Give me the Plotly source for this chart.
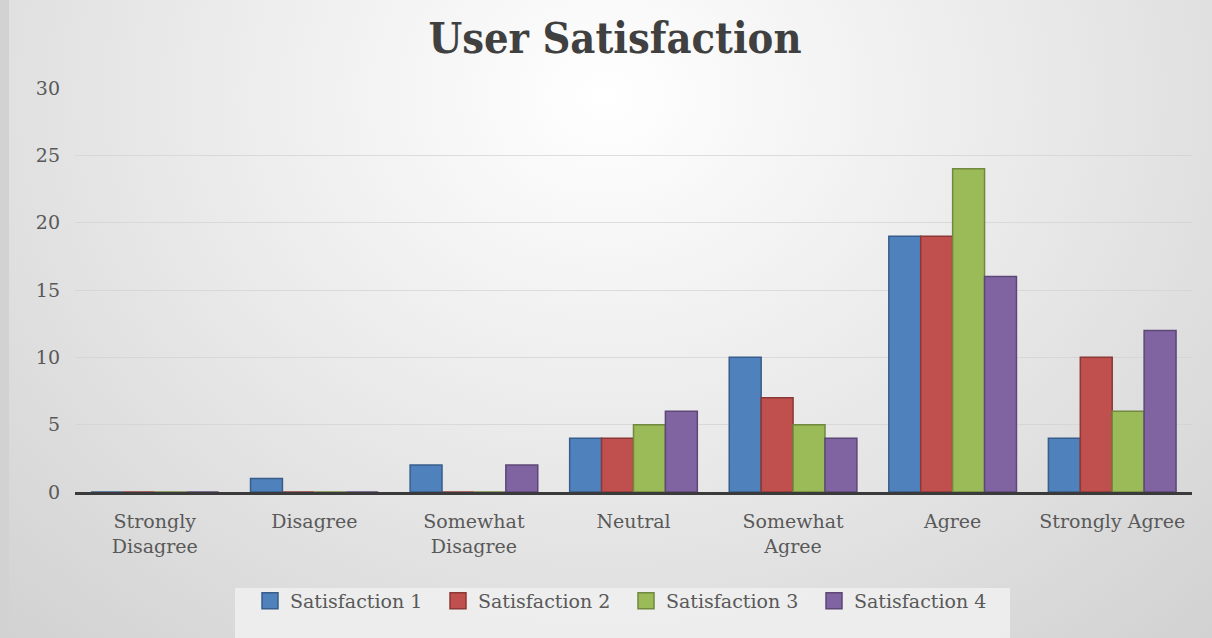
import base64
import plotly.graph_objects as go

categories = ["Strongly<br>Disagree", "Disagree", "Somewhat<br>Disagree", "Neutral",
              "Somewhat<br>Agree", "Agree", "Strongly Agree"]
satisfaction_1 = [0, 1, 2, 4, 10, 19, 4]
satisfaction_2 = [0, 0, 0, 4, 7, 19, 10]
satisfaction_3 = [0, 0, 0, 5, 5, 24, 6]
satisfaction_4 = [0, 0, 2, 6, 4, 16, 12]
series_names = ["Satisfaction 1", "Satisfaction 2", "Satisfaction 3", "Satisfaction 4"]
y_ticks = [0, 5, 10, 15, 20, 25, 30]

fills = ["#4F81BD", "#C0504D", "#9BBB59", "#8064A2"]
edges = ["#385D8A", "#8C3836", "#71893F", "#5C4776"]

W, H = 1212, 638
ML, MR, MT, MB = 75, 20, 88, 146
PW, PH = W - ML - MR, H - MT - MB

# soft radial background drawn as an SVG image
svg = f"""<svg xmlns='http://www.w3.org/2000/svg' width='{W}' height='{H}' viewBox='0 0 {W} {H}' preserveAspectRatio='none'>
<defs><radialGradient id='g' cx='50%' cy='15%' r='80%' gradientTransform='translate(0.5,0.15) scale(1,1.6) translate(-0.5,-0.15)'>
<stop offset='0%' stop-color='#ffffff'/><stop offset='45%' stop-color='#e9e9e9'/><stop offset='100%' stop-color='#cdcdcd'/>
</radialGradient></defs>
<rect width='{W}' height='{H}' fill='url(#g)'/>
<rect x='0' y='0' width='9' height='{H}' fill='#d2d2d2'/>
</svg>"""
bg_src = "data:image/svg+xml;base64," + base64.b64encode(svg.encode()).decode()

fig = go.Figure()
for name, vals, fc, ec in zip(series_names,
                              [satisfaction_1, satisfaction_2, satisfaction_3, satisfaction_4],
                              fills, edges):
    fig.add_trace(go.Bar(x=categories, y=vals, name=name, legendgroup=name, showlegend=False,
                         marker=dict(color=fc, line=dict(color=ec, width=1.5))))
# larger square swatches for the legend
for name, fc, ec in zip(series_names, fills, edges):
    fig.add_trace(go.Scatter(x=[None], y=[None], mode="markers", name=name, legendgroup=name,
                             marker=dict(symbol="square", size=18, color=fc,
                                         line=dict(color=ec, width=1.5))))

serif = "DejaVu Serif"
fig.update_layout(
    width=W, height=H,
    margin=dict(l=ML, r=MR, t=MT, b=MB, pad=0),
    paper_bgcolor="#e4e4e4",
    plot_bgcolor="rgba(0,0,0,0)",
    barmode="group", bargap=0.2, bargroupgap=0,
    title=dict(text="<b>User Satisfaction</b>", x=615 / W, xanchor="center",
               y=1 - 38 / H, yanchor="middle",
               font=dict(family="DejaVu Serif Condensed", size=43, color="#404040")),
    showlegend=True,
    legend=dict(orientation="h", x=(250 - ML) / PW, xanchor="left",
                y=-(601 - MT - PH) / PH, yanchor="middle",
                bgcolor="rgba(0,0,0,0)", traceorder="normal", itemsizing="trace",
                font=dict(family=serif, size=19, color="#595959"),
                itemwidth=30, entrywidthmode="pixels", entrywidth=143),
    images=[dict(source=bg_src, xref="paper", yref="paper",
                 x=-ML / PW, y=1 + MT / PH, sizex=W / PW, sizey=H / PH,
                 xanchor="left", yanchor="top", sizing="stretch", layer="below")],
    shapes=[dict(type="rect", xref="paper", yref="paper", layer="below",
                 x0=(235 - ML) / PW, x1=(1010 - ML) / PW,
                 y0=-(H + 2 - MT - PH) / PH, y1=-(588 - MT - PH) / PH,
                 fillcolor="rgba(240,240,240,0.85)", line=dict(width=0))],
)
fig.update_xaxes(showgrid=False, showline=True, linecolor="#3a3a3a", linewidth=3,
                 tickfont=dict(family=serif, size=19, color="#595959"),
                 ticks="", ticklabelstandoff=10)
fig.update_yaxes(range=[0, 30], tickvals=y_ticks, showgrid=True,
                 gridcolor="rgba(210,210,210,0.7)", gridwidth=1, zeroline=False,
                 showline=False, ticks="",
                 tickfont=dict(family=serif, size=19, color="#595959"),
                 ticklabelstandoff=14)

fig.write_html("out.html")
